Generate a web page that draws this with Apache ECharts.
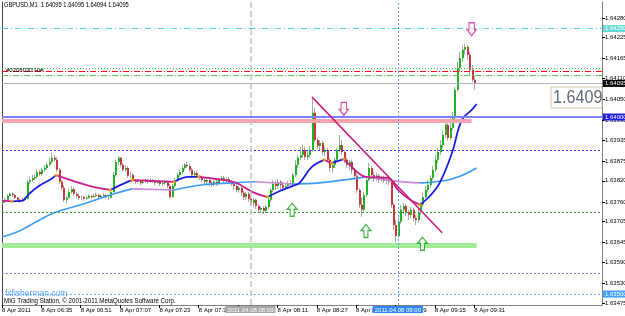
<!DOCTYPE html>
<html><head><meta charset="utf-8">
<script src="https://cdn.jsdelivr.net/npm/echarts@6/dist/echarts.min.js"></script>
<style>html,body{margin:0;padding:0;background:#fff}#c{width:625px;height:316px}</style>
</head><body><div id="c"></div>
<script>
// ---- data ----
const startMinute = 6 * 60 + 19;      // first bar 06:19
const categoryCount = 245;            // visible bar slots (chart shift on right)
const categories = [];
for (let k = 0; k < categoryCount; k++) {
  const m = startMinute + k;
  categories.push(String(Math.floor(m / 60)).padStart(2, '0') + ':' + String(m % 60).padStart(2, '0'));
}
// [open, close, low, high]
const candles = [
[1.63757,1.63763,1.63755,1.63769],[1.63763,1.63766,1.63757,1.63772],[1.63766,1.63777,1.63763,1.63783],[1.63777,1.63783,1.63774,1.63788],
[1.63783,1.63780,1.63774,1.63788],[1.63780,1.63772,1.63769,1.63783],[1.63772,1.63766,1.63763,1.63774],[1.63766,1.63763,1.63757,1.63769],
[1.63763,1.63766,1.63760,1.63772],[1.63766,1.63769,1.63763,1.63774],[1.63769,1.63817,1.63766,1.63822],[1.63817,1.63822,1.63811,1.63831],
[1.63822,1.63828,1.63817,1.63836],[1.63828,1.63831,1.63822,1.63839],[1.63831,1.63845,1.63825,1.63851],[1.63845,1.63839,1.63834,1.63851],
[1.63839,1.63851,1.63834,1.63856],[1.63851,1.63856,1.63845,1.63865],[1.63856,1.63865,1.63851,1.63873],[1.63865,1.63873,1.63859,1.63885],
[1.63873,1.63885,1.63868,1.63899],[1.63885,1.63879,1.63873,1.63893],[1.63879,1.63851,1.63845,1.63887],[1.63851,1.63817,1.63811,1.63856],
[1.63817,1.63800,1.63794,1.63822],[1.63800,1.63766,1.63760,1.63808],[1.63766,1.63772,1.63757,1.63777],[1.63772,1.63788,1.63769,1.63800],
[1.63788,1.63797,1.63783,1.63805],[1.63797,1.63783,1.63777,1.63803],[1.63783,1.63777,1.63772,1.63788],[1.63777,1.63772,1.63766,1.63783],
[1.63772,1.63774,1.63766,1.63780],[1.63774,1.63769,1.63763,1.63777],[1.63769,1.63772,1.63766,1.63777],[1.63772,1.63777,1.63769,1.63783],
[1.63777,1.63774,1.63769,1.63780],[1.63774,1.63777,1.63772,1.63783],[1.63777,1.63780,1.63774,1.63786],[1.63780,1.63774,1.63769,1.63783],
[1.63774,1.63777,1.63772,1.63783],[1.63777,1.63780,1.63774,1.63786],[1.63780,1.63774,1.63769,1.63783],[1.63774,1.63772,1.63766,1.63780],
[1.63772,1.63788,1.63769,1.63794],[1.63788,1.63836,1.63786,1.63845],[1.63836,1.63873,1.63831,1.63879],[1.63873,1.63885,1.63865,1.63890],
[1.63885,1.63865,1.63859,1.63887],[1.63865,1.63851,1.63845,1.63870],[1.63851,1.63856,1.63845,1.63865],[1.63856,1.63834,1.63828,1.63862],
[1.63834,1.63836,1.63828,1.63845],[1.63836,1.63822,1.63817,1.63842],[1.63822,1.63817,1.63811,1.63825],[1.63817,1.63820,1.63814,1.63825],
[1.63820,1.63814,1.63808,1.63822],[1.63814,1.63817,1.63811,1.63822],[1.63817,1.63820,1.63814,1.63825],[1.63820,1.63817,1.63811,1.63825],
[1.63817,1.63822,1.63814,1.63828],[1.63822,1.63820,1.63814,1.63825],[1.63820,1.63814,1.63808,1.63822],[1.63814,1.63817,1.63811,1.63822],
[1.63817,1.63811,1.63805,1.63820],[1.63811,1.63814,1.63805,1.63820],[1.63814,1.63817,1.63808,1.63822],[1.63817,1.63805,1.63800,1.63820],
[1.63805,1.63774,1.63769,1.63811],[1.63774,1.63805,1.63772,1.63811],[1.63805,1.63822,1.63800,1.63828],[1.63822,1.63836,1.63817,1.63842],
[1.63836,1.63845,1.63831,1.63851],[1.63845,1.63856,1.63839,1.63862],[1.63856,1.63865,1.63851,1.63870],[1.63865,1.63862,1.63856,1.63873],
[1.63862,1.63851,1.63845,1.63868],[1.63851,1.63836,1.63831,1.63856],[1.63836,1.63842,1.63831,1.63848],[1.63842,1.63834,1.63828,1.63848],
[1.63834,1.63828,1.63822,1.63836],[1.63828,1.63822,1.63817,1.63834],[1.63822,1.63817,1.63811,1.63828],[1.63817,1.63822,1.63811,1.63828],
[1.63822,1.63814,1.63805,1.63825],[1.63814,1.63808,1.63803,1.63820],[1.63808,1.63817,1.63805,1.63822],[1.63817,1.63811,1.63805,1.63822],
[1.63811,1.63822,1.63808,1.63828],[1.63822,1.63828,1.63820,1.63834],[1.63828,1.63820,1.63814,1.63834],[1.63820,1.63825,1.63814,1.63831],
[1.63825,1.63817,1.63811,1.63831],[1.63817,1.63811,1.63805,1.63822],[1.63811,1.63805,1.63794,1.63817],[1.63805,1.63794,1.63788,1.63811],
[1.63794,1.63800,1.63786,1.63805],[1.63800,1.63786,1.63777,1.63805],[1.63786,1.63774,1.63766,1.63791],[1.63774,1.63783,1.63766,1.63788],
[1.63783,1.63769,1.63760,1.63788],[1.63769,1.63757,1.63749,1.63774],[1.63757,1.63766,1.63746,1.63772],[1.63766,1.63749,1.63740,1.63769],
[1.63749,1.63738,1.63732,1.63755],[1.63738,1.63743,1.63729,1.63749],[1.63743,1.63735,1.63726,1.63749],[1.63735,1.63746,1.63729,1.63752],
[1.63746,1.63766,1.63740,1.63772],[1.63766,1.63794,1.63760,1.63800],[1.63794,1.63811,1.63788,1.63822],[1.63811,1.63805,1.63794,1.63822],
[1.63805,1.63817,1.63797,1.63825],[1.63817,1.63808,1.63794,1.63822],[1.63808,1.63800,1.63791,1.63817],[1.63800,1.63805,1.63794,1.63814],
[1.63805,1.63811,1.63797,1.63820],[1.63811,1.63814,1.63803,1.63822],[1.63814,1.63836,1.63808,1.63842],[1.63836,1.63865,1.63831,1.63879],
[1.63865,1.63885,1.63856,1.63893],[1.63885,1.63893,1.63879,1.63916],[1.63893,1.63907,1.63885,1.63921],[1.63907,1.63887,1.63879,1.63916],
[1.63887,1.63893,1.63879,1.63907],[1.63893,1.63907,1.63885,1.63918],[1.63907,1.64012,1.63901,1.64051],[1.64012,1.63935,1.63930,1.64026],
[1.63935,1.63918,1.63910,1.63941],[1.63918,1.63927,1.63907,1.63935],[1.63927,1.63901,1.63893,1.63933],[1.63901,1.63907,1.63890,1.63916],
[1.63907,1.63879,1.63873,1.63913],[1.63879,1.63856,1.63845,1.63885],[1.63856,1.63865,1.63842,1.63873],[1.63865,1.63879,1.63856,1.63885],
[1.63879,1.63907,1.63873,1.63913],[1.63907,1.63921,1.63901,1.63949],[1.63921,1.63901,1.63893,1.63935],[1.63901,1.63879,1.63870,1.63907],
[1.63879,1.63865,1.63856,1.63885],[1.63865,1.63873,1.63851,1.63879],[1.63873,1.63851,1.63839,1.63879],[1.63851,1.63834,1.63828,1.63856],
[1.63834,1.63794,1.63786,1.63839],[1.63794,1.63752,1.63743,1.63800],[1.63752,1.63738,1.63718,1.63772],[1.63738,1.63780,1.63732,1.63788],
[1.63780,1.63822,1.63774,1.63828],[1.63822,1.63856,1.63817,1.63870],[1.63856,1.63836,1.63828,1.63862],[1.63836,1.63828,1.63817,1.63845],
[1.63828,1.63834,1.63820,1.63842],[1.63834,1.63822,1.63814,1.63839],[1.63822,1.63828,1.63817,1.63834],[1.63828,1.63820,1.63814,1.63834],
[1.63820,1.63825,1.63811,1.63831],[1.63825,1.63817,1.63808,1.63831],[1.63817,1.63752,1.63743,1.63822],[1.63752,1.63695,1.63681,1.63757],
[1.63695,1.63664,1.63647,1.63709],[1.63664,1.63704,1.63659,1.63715],[1.63704,1.63738,1.63698,1.63752],[1.63738,1.63749,1.63726,1.63757],
[1.63749,1.63732,1.63721,1.63755],[1.63732,1.63724,1.63709,1.63738],[1.63724,1.63738,1.63715,1.63746],[1.63738,1.63715,1.63704,1.63743],
[1.63715,1.63709,1.63695,1.63724],[1.63709,1.63732,1.63701,1.63743],[1.63732,1.63752,1.63724,1.63760],[1.63752,1.63774,1.63746,1.63786],
[1.63774,1.63794,1.63769,1.63805],[1.63794,1.63808,1.63788,1.63822],[1.63808,1.63828,1.63800,1.63836],[1.63828,1.63851,1.63822,1.63862],
[1.63851,1.63879,1.63845,1.63893],[1.63879,1.63901,1.63870,1.63913],[1.63901,1.63921,1.63893,1.63935],[1.63921,1.63949,1.63913,1.63964],
[1.63949,1.63978,1.63941,1.63992],[1.63978,1.63941,1.63933,1.63986],[1.63941,1.63969,1.63935,1.63997],[1.63969,1.63997,1.63964,1.64014],
[1.63997,1.64077,1.63992,1.64085],[1.64077,1.64139,1.64071,1.64156],[1.64139,1.64167,1.64127,1.64184],[1.64167,1.64190,1.64156,1.64204],
[1.64190,1.64198,1.64176,1.64207],[1.64198,1.64176,1.64161,1.64204],[1.64176,1.64133,1.64119,1.64184],[1.64133,1.64105,1.64099,1.64147],
[1.64105,1.64095,1.64077,1.64116],[1.64095,1.64095,1.64094,1.64095]
];
// fast MA, colour by slope: [bar index, price]
const maFast = [[0,1.63764],[4,1.63762],[8,1.63763],[11,1.63783],[15,1.63805],[20,1.63825],[22,1.63836],[30,1.63817],[37,1.63803],[44,1.63794],
[51,1.63817],[53,1.63822],[60,1.63820],[70,1.63817],[76,1.63831],[80,1.63831],[87,1.63825],[94,1.63817],[97,1.63808],[102,1.63788],[108,1.63774],
[113,1.63791],[118,1.63805],[121,1.63814],[126,1.63859],[131,1.63879],[134,1.63870],[139,1.63881],[141,1.63867],[148,1.63831],[157,1.63828],
[161,1.63794],[166,1.63766],[170,1.63752],[174,1.63777],[178,1.63814],[183,1.63899],[187,1.63992],[191,1.64020],[193,1.64037]];
// slow MA
const maSlow = [[0,1.63661],[7,1.63678],[14,1.63704],[21,1.63729],[32,1.63752],[44,1.63780],[53,1.63797],[70,1.63794],[81,1.63808],[94,1.63814],
[103,1.63817],[118,1.63811],[129,1.63814],[148,1.63831],[160,1.63819],[170,1.63814],[183,1.63825],[193,1.63856]];
const priceTicks = [1.64280,1.64225,1.64165,1.64110,1.64050,1.63990,1.63935,1.63875,1.63820,1.63760,1.63705,1.63645,1.63590,1.63530,1.63475];
const sellArrows = [[139,1.64023],[191,1.64248]];
const buyArrows = [[118,1.63738],[148,1.63678],[171,1.63642]];
const trendLine = [[126,1.64057],[179,1.63673]];
const levelCyan = 1.64250, levelGreenDot = 1.64138, levelRed = 1.64130, levelGreenDash = 1.64119;
const bidPrice = 1.64095, levelBlue = 1.64000, levelBlueDot = 1.63907, levelGreenLow = 1.63732;
const levelPurple = 1.63560, levelLightBlue = 1.63500, pinkBand = 1.63989, greenBand = 1.63639;
const pinkBandEnd = 191, greenBandEnd = 193;
const vLine0800 = 101, vLine0900 = 161;

// ---- chart ----
const FONT = 'Liberation Sans';
const LAST = categoryCount - 1;
const chart = echarts.init(document.getElementById('c'), null, {renderer: 'canvas'});
function runs(pts) {
  const out = []; let cur = null, dir = null;
  for (let k = 1; k < pts.length; k++) {
    const d = pts[k][1] >= pts[k - 1][1] ? 'up' : 'down';
    if (d !== dir) { cur = {dir: d, data: [pts[k - 1]]}; out.push(cur); dir = d; }
    cur.data.push(pts[k]);
  }
  return out;
}
const maSeries = [];
runs(maSlow).forEach(r => maSeries.push({type: 'line', data: r.data, smooth: 0.4, showSymbol: false, z: 3,
  lineStyle: {color: r.dir === 'up' ? '#3d9cf5' : '#c98ad8', width: 1.6}, silent: true}));
const fr = runs(maFast);
fr.forEach(r => maSeries.push({type: 'line', data: r.data, smooth: 0.4, showSymbol: false, z: 4,
  lineStyle: {color: r.dir === 'up' ? '#1c1ce8' : '#c8208a', width: 1.8}, silent: true}));
const turns = fr.slice(1).map(r => r.data[0]);
maSeries.push({type: 'scatter', data: turns, symbol: 'rect', symbolSize: 3, z: 5, itemStyle: {color: '#ffaa00'}, silent: true});

const hl = (p, color, type, width, label) => [
  {coord: [0, p], lineStyle: {color, type, width}, label: label || {show: false}},
  {coord: [LAST, p]}
];
const boxLabel = (txt, bg) => ({show: true, position: 'end', formatter: txt, backgroundColor: bg, color: '#fff',
  fontSize: 6, fontFamily: FONT, padding: [1, 1, 0, 2], distance: 1});
const markLines = [
  hl(levelCyan, '#4fd2d2', [6, 3, 1, 3], 1, boxLabel('1.64250', '#66d8d8')),
  hl(levelGreenDot, '#3cbf3c', [1, 2], 1),
  hl(levelGreenDash, '#52cc52', [6, 2, 1, 2], 1),
  hl(levelRed, '#ff1010', [6, 2, 1, 2], 1.2),
  hl(bidPrice, '#b4b4c4', 'solid', 1, boxLabel('1.64095', '#000000')),
  hl(levelBlue, '#8080ff', 'solid', 2, boxLabel('1.64000', '#1e1ee8')),
  hl(levelBlueDot, '#2e2ef0', [2, 2], 1),
  hl(levelGreenLow, '#2aa02a', [2, 2], 1),
  hl(levelPurple, '#7f7fe6', [2, 2], 1),
  hl(levelLightBlue, '#5fb0ff', [2, 2], 1, boxLabel('1.63500', '#3fa0ff')),
  [{coord: [0, pinkBand], lineStyle: {color: '#f6a3ad', width: 4, type: 'solid'}, label: {show: false}}, {coord: [pinkBandEnd, pinkBand]}],
  [{coord: [0, greenBand], lineStyle: {color: '#9eec96', width: 5, type: 'solid'}, label: {show: false}}, {coord: [greenBandEnd, greenBand]}],
  {xAxis: vLine0800, lineStyle: {color: '#c4c4c4', type: [6, 3], width: 1.5},
    label: {show: true, position: 'start', formatter: '2011.04.08 08:00', backgroundColor: '#a9a9a9', color: '#fff', fontSize: 6, fontFamily: FONT, padding: [1, 2, 0, 2], distance: 1}},
  {xAxis: vLine0900, lineStyle: {color: '#5a9cff', type: [2, 2], width: 1},
    label: {show: true, position: 'start', formatter: '2011.04.08 09:00', backgroundColor: '#2f86ff', color: '#fff', fontSize: 6, fontFamily: FONT, padding: [1, 2, 0, 2], distance: 1}},
  [{coord: trendLine[0], lineStyle: {color: '#cc1a7a', width: 1.5, type: 'solid'}, label: {show: false}}, {coord: trendLine[1]}]
];

const upPath = 'path://M5,0 L10,6 L7,6 L7,13 L3,13 L3,6 L0,6 Z';
const downPath = 'path://M2,0 L8,0 L8,7 L10,7 L5,13 L0,7 L2,7 Z';

const option = {
  animation: false,
  backgroundColor: '#ffffff',
  textStyle: {fontFamily: FONT},
  grid: {left: 2, right: 23, top: 2, bottom: 11, containLabel: false, outerBoundsMode: 'none'},
  xAxis: {
    type: 'category', data: categories, boundaryGap: false,
    axisLine: {show: true, lineStyle: {color: '#808080', width: 1}},
    axisTick: {show: true, length: 3, lineStyle: {color: '#000'}, interval: (i) => i % 16 === 0 && i < candles.length},
    axisLabel: {interval: (i) => i % 16 === 0 && i < candles.length, align: 'left', margin: 2,
      fontSize: 6, color: '#000', fontFamily: FONT,
      formatter: (v, i) => i === 0 ? '8 Apr 2011' : '8 Apr ' + v},
    splitLine: {show: false}
  },
  yAxis: [{
    type: 'value', position: 'right', min: 1.63469, max: 1.64325, scale: true,
    axisLine: {show: true, lineStyle: {color: '#808080', width: 1}},
    axisTick: {show: true, length: 3, customValues: priceTicks, lineStyle: {color: '#000'}},
    axisLabel: {customValues: priceTicks, formatter: v => v.toFixed(5), fontSize: 6, color: '#000', margin: 3, fontFamily: FONT},
    splitLine: {show: false}
  }, {
    type: 'value', position: 'left', min: 1.63469, max: 1.64325,
    axisLine: {show: true, lineStyle: {color: '#404040', width: 1}},
    axisTick: {show: false}, axisLabel: {show: false}, splitLine: {show: false}
  }],
  graphic: [
    {type: 'text', x: 4, y: 2, scaleX: 0.82, style: {text: 'GBPUSD,M1  1.64095 1.64095 1.64094 1.64095', fontSize: 7, fill: '#000', fontFamily: FONT}, z: 10},
    {type: 'text', x: 6, y: 67, style: {text: '#0208030 Hi#', fontSize: 6, fill: '#000', fontFamily: FONT}, z: 10},
    {type: 'text', x: 5, y: 289, style: {text: 'fxfisherman.com', fontSize: 8.5, fill: '#5aa0ff', fontFamily: FONT}, z: 10},
    {type: 'text', x: 4, y: 298, scaleX: 0.88, style: {text: 'MIG Trading Station, \u00a9 2001-2011 MetaQuotes Software Corp.', fontSize: 7, fill: '#000', fontFamily: FONT}, z: 10},
    {type: 'rect', x: 551, y: 87, shape: {width: 51, height: 21}, style: {fill: '#fff', stroke: '#d8c8a6', lineWidth: 1}, z: 10},
    {type: 'text', x: 553, y: 88, scaleX: 0.85, style: {text: '1.6409', fontSize: 19, fill: '#5d6c7d', fontFamily: FONT}, z: 11}
  ],
  series: [
    {type: 'line', data: [], z: 1, silent: true, markLine: {symbol: ['none', 'none'], silent: true, animation: false, data: markLines}},
    {type: 'custom', z: 2, silent: true,
      data: candles.map((d, i) => [i, d[0], d[1], d[2], d[3]]),
      encode: {x: 0, y: [1, 2, 3, 4]},
      renderItem: function (params, api) {
        const i = api.value(0), o = api.value(1), c = api.value(2), l = api.value(3), h = api.value(4);
        const po = api.coord([i, o]), pc = api.coord([i, c]), pl = api.coord([i, l]), ph = api.coord([i, h]);
        const x = Math.round(po[0]);
        const children = [{type: 'line', shape: {x1: x + 0.5, y1: ph[1], x2: x + 0.5, y2: pl[1]}, style: {stroke: '#a8a8a8', lineWidth: 1}}];
        const top = Math.min(po[1], pc[1]), bot = Math.max(po[1], pc[1]);
        if (bot - top >= 1) children.push({type: 'rect', shape: {x: x, y: top, width: 2, height: bot - top}, style: {fill: c > o ? '#20b420' : '#c8373c'}});
        return {type: 'group', children};
      }
    },
    ...maSeries,
    {type: 'scatter', data: sellArrows, symbol: downPath, symbolSize: [9, 13], z: 6, silent: true,
      itemStyle: {color: '#fff0f6', borderColor: '#cc2a88', borderWidth: 1.2}},
    {type: 'scatter', data: buyArrows, symbol: upPath, symbolSize: [10, 13], z: 6, silent: true,
      itemStyle: {color: '#f0fff0', borderColor: '#169c16', borderWidth: 1.2}}
  ]
};
chart.setOption(option);
</script></body></html>
